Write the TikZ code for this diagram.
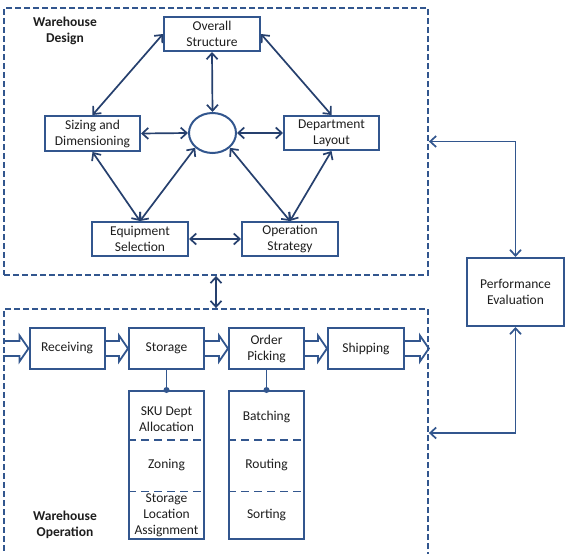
\documentclass[tikz,border=0pt]{standalone}
\usepackage{fontspec}
\setmainfont{Carlito}
\usetikzlibrary{arrows.meta,calc,shapes.geometric}
\definecolor{bc}{RGB}{50,86,142}
\definecolor{ac}{RGB}{38,64,110}
\definecolor{tc}{RGB}{30,30,30}
\begin{document}
\begin{tikzpicture}[x=1pt,y=-1pt,font=\fontsize{13.5}{16}\selectfont,
  box/.style={draw=bc,line width=2pt,rectangle,inner sep=0pt,align=center,text=tc},
  dbox/.style={draw=bc,line width=1.8pt,dash pattern=on 6pt off 3pt,rectangle,inner sep=0pt},
  txt/.style={inner sep=0pt,align=center,text=tc},
  lbl/.style={inner sep=0pt,align=center,text=tc,font=\fontsize{13.5}{16}\selectfont\bfseries},
  tip/.style={Straight Barb[length=6pt,width=11pt]},
  arr/.style={draw=ac,line width=1.7pt,{Straight Barb[length=6pt,width=11pt]}-{Straight Barb[length=6pt,width=11pt]}},
  parr/.style={draw=bc,line width=1.7pt,{Straight Barb[length=6pt,width=11pt]}-{Straight Barb[length=6pt,width=11pt]}},
  subdash/.style={draw=bc,line width=1.8pt,dash pattern=on 8pt off 5pt},
  fatarrow/.style={draw=bc,line width=1.8pt,line join=miter,
    to path={let \p1=(\tikztostart), \p2=(\tikztotarget) in
      (\x1,{\y1+7.5pt}) -- ({\x2-9pt},{\y1+7.5pt}) -- ({\x2-9pt},{\y1+13pt}) -- (\x2,\y1)
      -- ({\x2-9pt},{\y1-13pt}) -- ({\x2-9pt},{\y1-7.5pt}) -- (\x1,{\y1-7.5pt})}}]
\clip (0,0) rectangle (566,554);
\fill[white] (0,0) rectangle (566,554);
% containers
\node[dbox,minimum width=424pt,minimum height=267pt] (design) at (216,141.5) {};
\node[dbox,minimum width=424pt,minimum height=248pt] (operation) at (216,433) {};
\node[lbl] (dlabel) at (65,31) {Warehouse\\Design};
\node[lbl] (olabel) at (65,525) {Warehouse\\Operation};
% design nodes
\node[box,minimum width=96pt,minimum height=34pt] (overall) at (212,34) {Overall\\Structure};
\node[box,minimum width=95pt,minimum height=35pt] (sizing) at (92.5,133.5) {Sizing and\\Dimensioning};
\node[draw=bc,line width=2pt,ellipse,minimum width=47pt,minimum height=40pt,inner sep=0pt] (ell) at (212.5,133) {};
\node[box,minimum width=95pt,minimum height=34pt] (dept) at (331.5,133) {Department\\Layout};
\node[box,minimum width=96pt,minimum height=34pt] (equip) at (140,239) {Equipment\\Selection};
\node[box,minimum width=96pt,minimum height=34pt] (oper) at (290,239) {Operation\\Strategy};
\draw[arr] (overall.west) -- (sizing.north);
\draw[arr] (overall.east) -- (dept.north);
\draw[arr] (overall.south) -- (ell.north);
\draw[arr] (sizing.east) -- (ell.west);
\draw[arr] (ell.east) -- (dept.west);
\draw[arr] (sizing.south) -- (equip.north);
\draw[arr] (ell.south west) -- (equip.north);
\draw[arr] (ell.south east) -- (oper.north);
\draw[arr] (dept.south) -- (oper.north);
\draw[arr] (equip.east) -- (oper.west);
% performance
\node[box,minimum width=97pt,minimum height=68pt] (perf) at (515.5,292) {Performance\\Evaluation};
\draw[parr] (perf.north) |- (design.east);
\draw[parr] (perf.south) |- (operation.east);
\draw[arr] (design.south) -- (operation.north);
% operation flow
\node[box,minimum width=75pt,minimum height=41pt] (recv) at (67,348.5) {Receiving};
\node[box,minimum width=75pt,minimum height=41pt] (stor) at (166.5,348.5) {Storage};
\node[box,minimum width=75pt,minimum height=41pt] (pick) at (266.5,348.5) {Order\\Picking};
\node[box,minimum width=76pt,minimum height=41pt] (ship) at (366,348.5) {Shipping};
\coordinate (entry) at (operation.west |- recv.west);
\coordinate (exit) at (operation.east |- ship.east);
\draw[fatarrow] (entry) to (recv.west);
\draw[fatarrow] (recv.east) to (stor.west);
\draw[fatarrow] (stor.east) to (pick.west);
\draw[fatarrow] (pick.east) to (ship.west);
\draw[fatarrow] (ship.east) to (exit);
% sub boxes
\node[box,minimum width=75pt,minimum height=148pt] (storsub) at (166.5,465) {};
\node[box,minimum width=75pt,minimum height=148pt] (picksub) at (266.5,465) {};
\draw[subdash] ($(storsub.north west)!0.331!(storsub.south west)$) -- ($(storsub.north east)!0.331!(storsub.south east)$);
\draw[subdash] ($(storsub.north west)!0.676!(storsub.south west)$) -- ($(storsub.north east)!0.676!(storsub.south east)$);
\draw[subdash] ($(picksub.north west)!0.331!(picksub.south west)$) -- ($(picksub.north east)!0.331!(picksub.south east)$);
\draw[subdash] ($(picksub.north west)!0.676!(picksub.south west)$) -- ($(picksub.north east)!0.676!(picksub.south east)$);
\node[txt] (sku) at (166.5,419) {SKU Dept\\Allocation};
\node[txt] (zon) at (166.5,465) {Zoning};
\node[txt] (sla) at (166.5,515.5) {Storage\\Location\\Assignment};
\node[txt] (bat) at (266.5,417) {Batching};
\node[txt] (rou) at (266.5,465) {Routing};
\node[txt] (sor) at (266.5,515) {Sorting};
\draw[draw=bc,line width=1.8pt] (stor.south) -- (storsub.north);
\draw[draw=bc,line width=1.8pt] (pick.south) -- (picksub.north);
\fill[bc] (storsub.north) circle (3pt);
\fill[bc] (picksub.north) circle (3pt);
\end{tikzpicture}
\end{document}
